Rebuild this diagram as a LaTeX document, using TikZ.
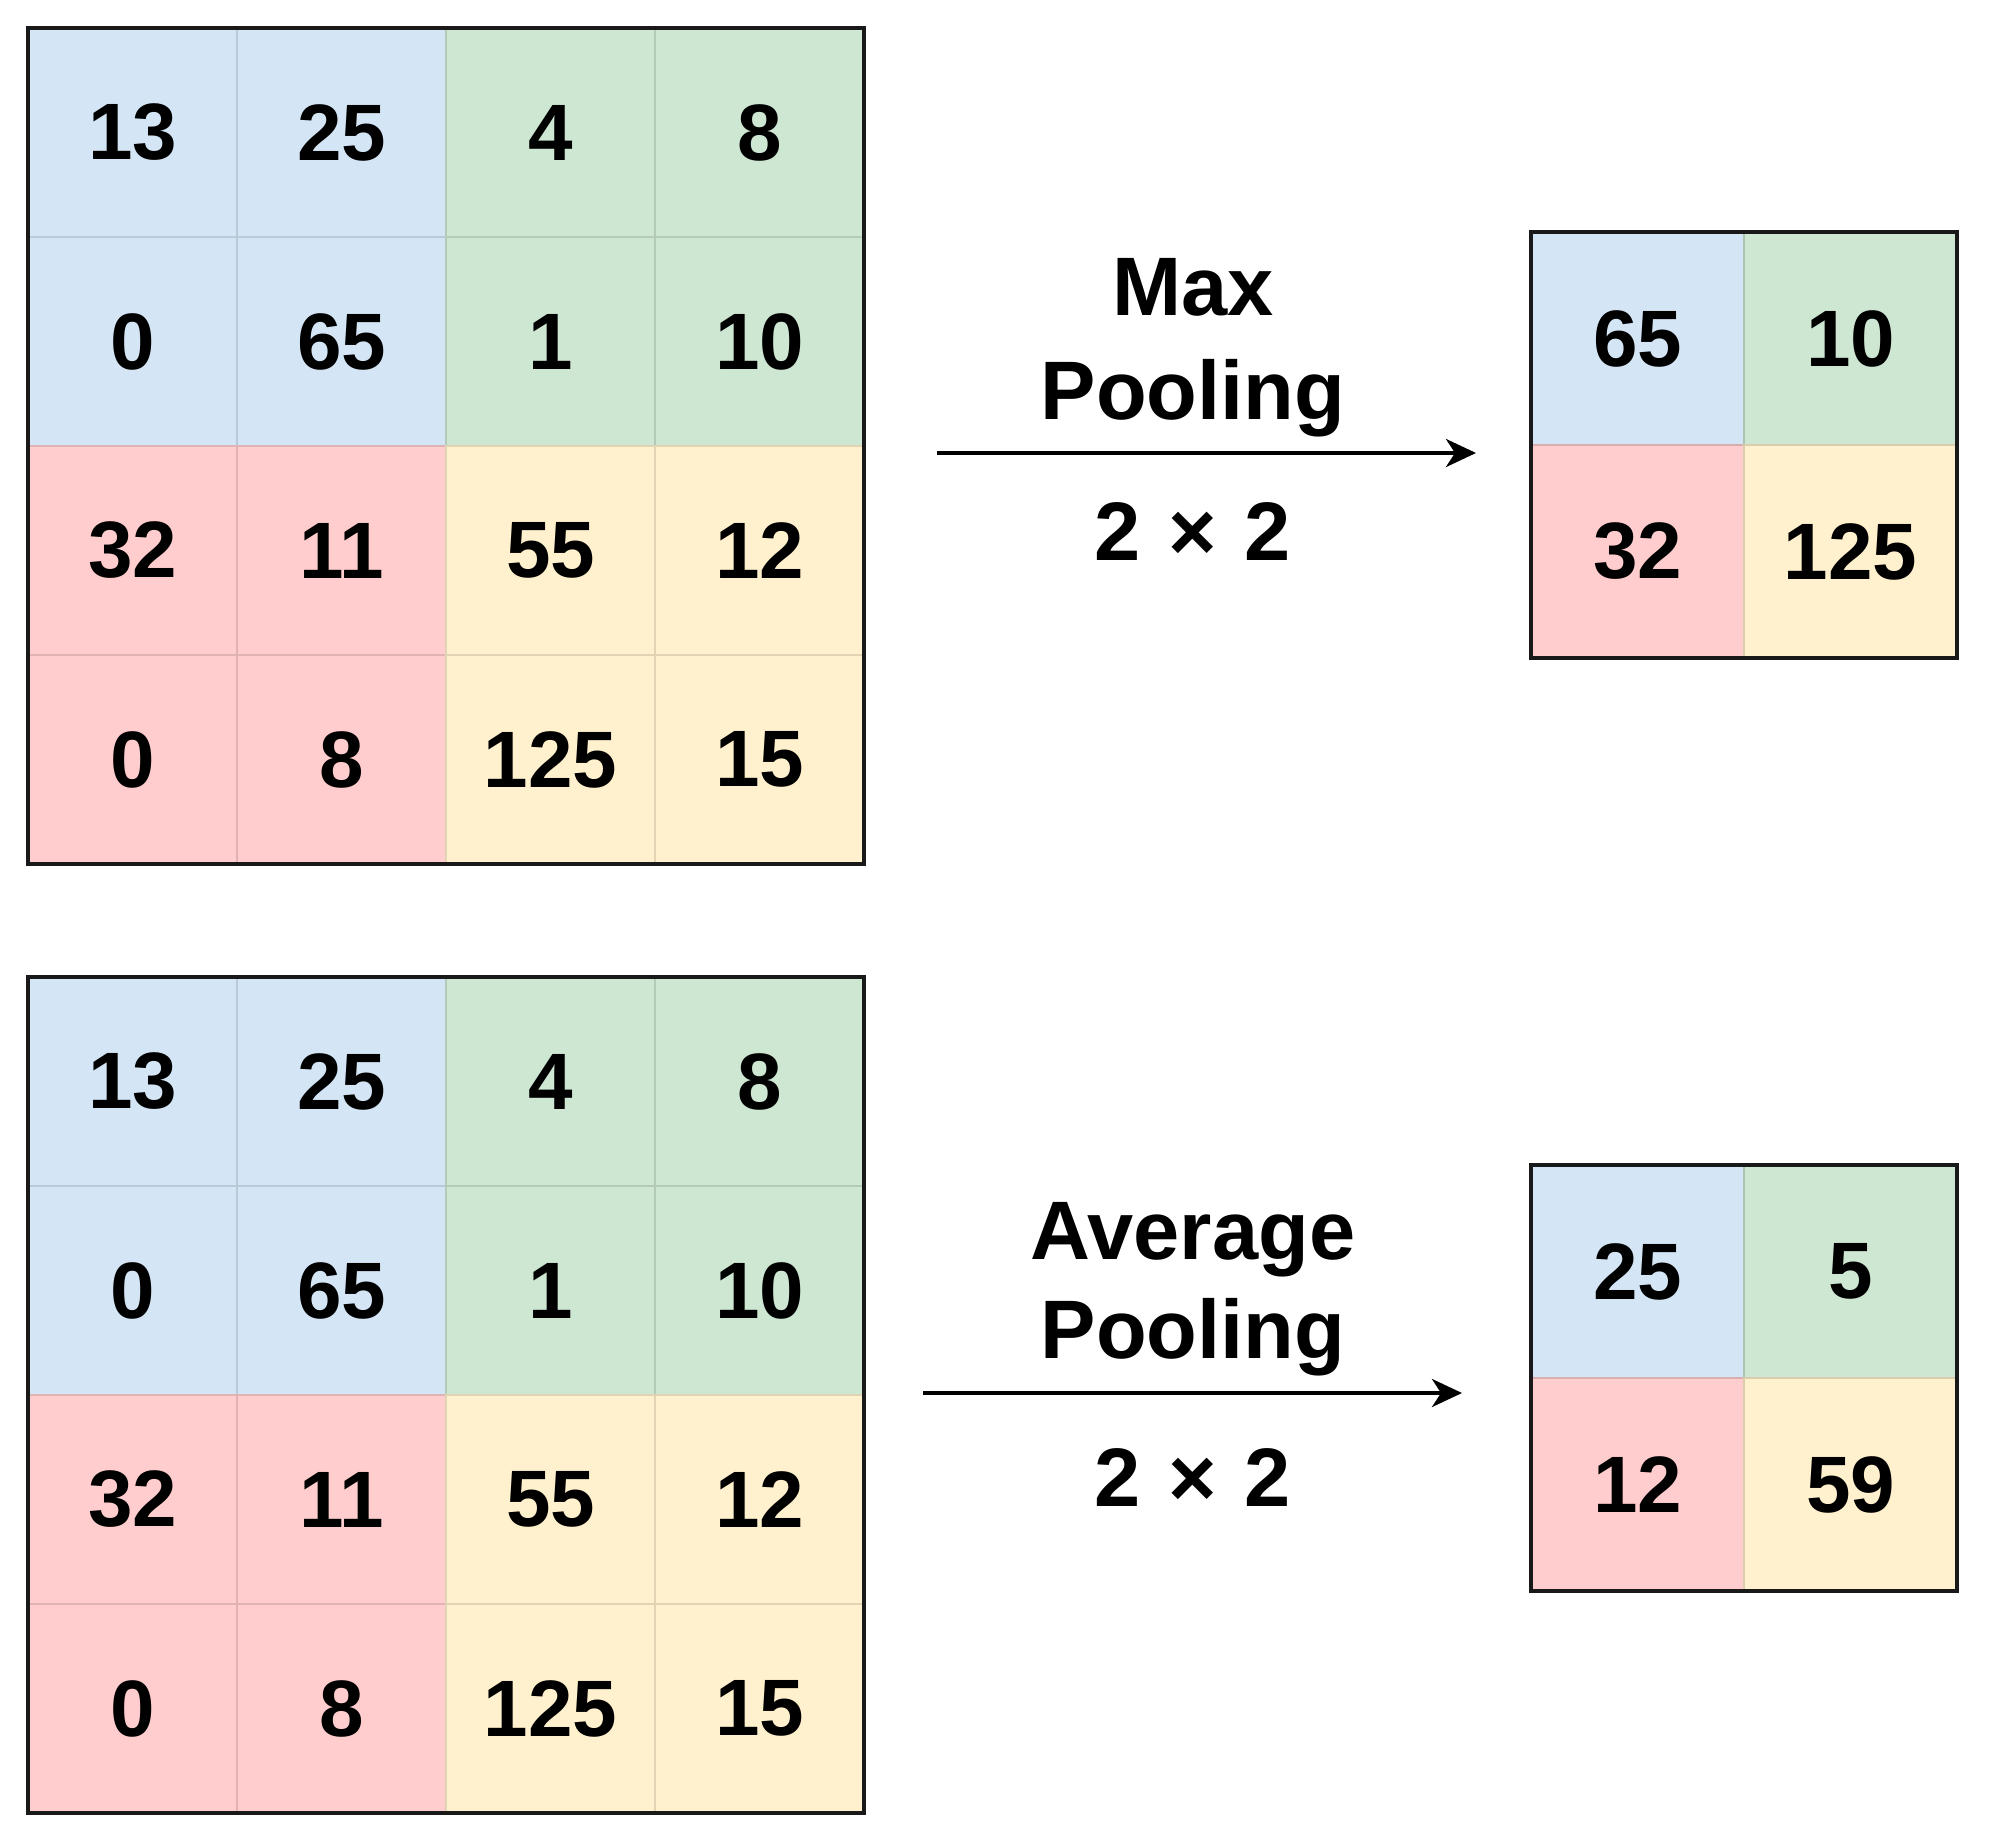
\documentclass[tikz,border=0pt]{standalone}
\usepackage{fontspec}
\setmainfont{Liberation Sans}
\usetikzlibrary{arrows.meta}
\definecolor{cq0}{HTML}{D4E6F6}
\definecolor{cq1}{HTML}{CDE7D3}
\definecolor{cq2}{HTML}{FFCDCD}
\definecolor{cq3}{HTML}{FFF1CD}
\newcommand{\cellfont}{\fontsize{80}{96}\selectfont\bfseries}
\newcommand{\lblfont}{\fontsize{83}{100}\selectfont\bfseries}
\begin{document}
\begin{tikzpicture}[x=1pt,y=-1pt,
    cell/.style={minimum size=#1,inner sep=0pt,outer sep=0pt,line width=1.5pt,font=\cellfont},
    lbl/.style={anchor=base,font=\lblfont},
    frame/.style={line width=4pt,draw=black!90},
    flow/.style={line width=4pt,-{Stealth[length=30pt,width=28pt,inset=9pt]}}]
    \useasboundingbox[fill=white] (0,0) rectangle (1990,1846);

    % input maps 4x4
    \foreach \name/\top in {maxin/28,avgin/977}{
    \foreach \v [count=\k from 0] in {13,25,4,8,0,65,1,10,32,11,55,12,0,8,125,15}{
        \pgfmathtruncatemacro\r{int(\k/4)}
        \pgfmathtruncatemacro\c{mod(\k,4)}
        \pgfmathtruncatemacro\q{2*int(\r/2)+int(\c/2)}
        \node[cell=209pt,fill=cq\q,draw=cq\q!88!black] (\name-\k)
            at ({28+104.5+\c*209},{\top+104.5+\r*209}) {\v};
    }
    \draw[frame] (\name-0.north west) rectangle (\name-15.south east);
    }

    % pooled maps 2x2
    \foreach \name/\top/\vals in {maxout/232/{65,10,32,125},avgout/1165/{25,5,12,59}}{
    \foreach \v [count=\k from 0] in \vals{
        \pgfmathtruncatemacro\r{int(\k/2)}
        \pgfmathtruncatemacro\c{mod(\k,2)}
        \node[cell=213pt,fill=cq\k,draw=cq\k!85!black] (\name-\k)
            at ({1531+106.5+\c*213},{\top+106.5+\r*213}) {\v};
    }
    \draw[frame] (\name-0.north west) rectangle (\name-3.south east);
    }

    % arrows and labels
    \coordinate (maxfrom) at (937,453);
    \coordinate (maxto) at (1476,453);
    \draw[flow] (maxfrom) -- (maxto);
    \node[lbl] (maxtxt) at (1193,315) {Max};
    \node[lbl] (maxpool) at (1193,419) {Pooling};
    \node[lbl] (maxsize) at (1193,560) {2\,\,×\,\,2};

    \coordinate (avgfrom) at (923,1393);
    \coordinate (avgto) at (1462,1393);
    \draw[flow] (avgfrom) -- (avgto);
    \node[lbl] (avgtxt) at (1193,1259) {Average};
    \node[lbl] (avgpool) at (1193,1358) {Pooling};
    \node[lbl] (avgsize) at (1193,1506) {2\,\,×\,\,2};
\end{tikzpicture}
\end{document}
